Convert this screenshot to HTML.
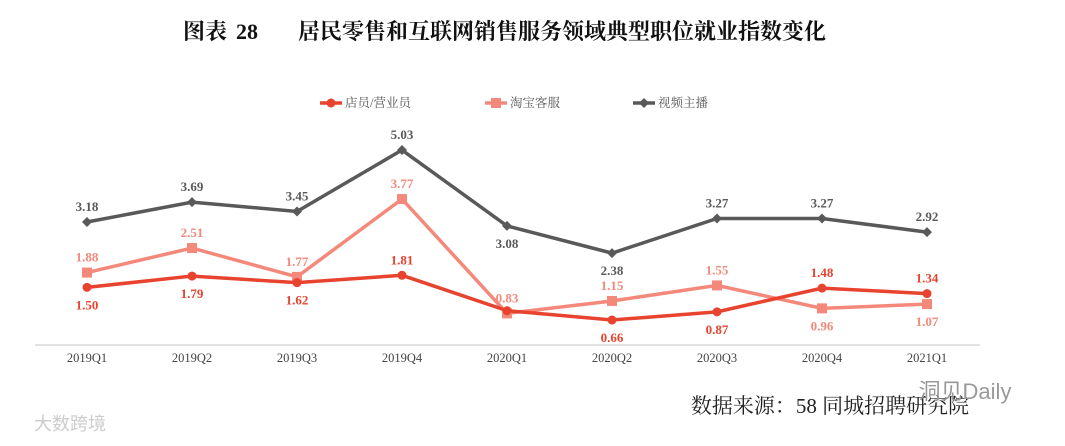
<!DOCTYPE html>
<html><head><meta charset="utf-8"><style>
body{margin:0;background:#fff;width:1065px;height:441px;overflow:hidden;font-family:"Liberation Serif","Noto Serif CJK SC",serif;}
</style></head><body>
<svg width="1065" height="441">
<text x="183" y="39" font-size="22" font-weight="bold" fill="#111" font-family="Liberation Serif,Noto Serif CJK SC,serif"><tspan>图表</tspan><tspan x="236">28</tspan><tspan x="298">居民零售和互联网销售服务领域典型职位就业指数变化</tspan></text>
<g id="legend"></g>
<line x1="35" y1="345" x2="980" y2="345" stroke="#d9d9d9" stroke-width="1.5"/>
<g id="xl"></g>
<g id="plot"></g>
<text x="830" y="413" text-anchor="middle" font-size="21" fill="#222">数据来源：58 同城招聘研究院</text>
<text x="965" y="399" text-anchor="middle" font-size="22" fill="#999" font-family="Liberation Sans,Noto Sans CJK SC,sans-serif">洞见Daily</text>
<text x="70" y="430" text-anchor="middle" font-size="18" fill="#ccc" font-family="Liberation Sans,Noto Sans CJK SC,sans-serif">大数跨境</text>
</svg>
<script>
const categories=["2019Q1","2019Q2","2019Q3","2019Q4","2020Q1","2020Q2","2020Q3","2020Q4","2021Q1"];
const clerk=[1.50,1.79,1.62,1.81,0.90,0.66,0.87,1.48,1.34];
const clerkLabels=["1.50","1.79","1.62","1.81","","0.66","0.87","1.48","1.34"];
const taobao=[1.88,2.51,1.77,3.77,0.83,1.15,1.55,0.96,1.07];
const streamer=[3.18,3.69,3.45,5.03,3.08,2.38,3.27,3.27,2.92];
const seriesNames=["店员/营业员","淘宝客服","视频主播"];
const NS="http://www.w3.org/2000/svg";
const xs=i=>87+i*105, ys=v=>345.7-38.9*v;
const plot=document.getElementById('plot'), xl=document.getElementById('xl'), lg=document.getElementById('legend');
function mk(t,a,p){const e=document.createElementNS(NS,t);for(const k in a)e.setAttribute(k,a[k]);p.appendChild(e);return e;}
categories.forEach((c,i)=>{const t=mk('text',{x:xs(i),y:362,'text-anchor':'middle','font-size':12.5,fill:'#444'},xl);t.textContent=c;

});
const cfg=[
 {d:streamer,col:'#595959',lab:streamer.map(v=>v.toFixed(2)),mark:'diamond',below:[4,5]},
 {d:taobao,col:'#f4897b',lab:taobao.map(v=>v.toFixed(2)),mark:'square',below:[7,8]},
 {d:clerk,col:'#e8432e',lab:clerkLabels,mark:'circle',below:[0,1,2,4,5,6]}];
cfg.forEach((s,si)=>{
 const p=mk('polyline',{points:s.d.map((v,i)=>xs(i)+','+ys(v)).join(' '),fill:'none',stroke:s.col,'stroke-width':3.5},plot);
 
 
 s.d.forEach((v,i)=>{const x=xs(i),y=ys(v);let m;
  if(s.mark=='circle')m=mk('circle',{cx:x,cy:y,r:4.5,fill:s.col},plot);
  else if(s.mark=='square')m=mk('rect',{x:x-5,y:y-5,width:10,height:10,fill:s.col},plot);
  else m=mk('path',{d:`M${x} ${y-5}L${x+5} ${y}L${x} ${y+5}L${x-5} ${y}Z`,fill:s.col},plot);
  
  
  if(!s.lab[i])return;
  const b=s.below.includes(i);
  const t=mk('text',{x:x,y:b?y+22:y-11,'text-anchor':'middle','font-size':13,'font-weight':'bold',fill:s.col},plot);
  t.textContent=s.lab[i];
  
  
 });
});
const lx=[320,485,633];
cfg.slice().reverse().forEach((s,i)=>{const x=lx[i],y=103;
 mk('line',{x1:x,y1:y,x2:x+22,y2:y,stroke:s.col,'stroke-width':3.5},lg);
 if(s.mark=='circle')mk('circle',{cx:x+11,cy:y,r:4.5,fill:s.col},lg);
 else if(s.mark=='square')mk('rect',{x:x+6,y:y-5,width:10,height:10,fill:s.col},lg);
 else mk('path',{d:`M${x+11} ${y-5}L${x+16} ${y}L${x+11} ${y+5}L${x+6} ${y}Z`,fill:s.col},lg);
 const t=mk('text',{x:x+25,y:y+4,'font-size':12.5,fill:'#555'},lg);t.textContent=seriesNames[i];
 
 
});
</script>
</body></html>
